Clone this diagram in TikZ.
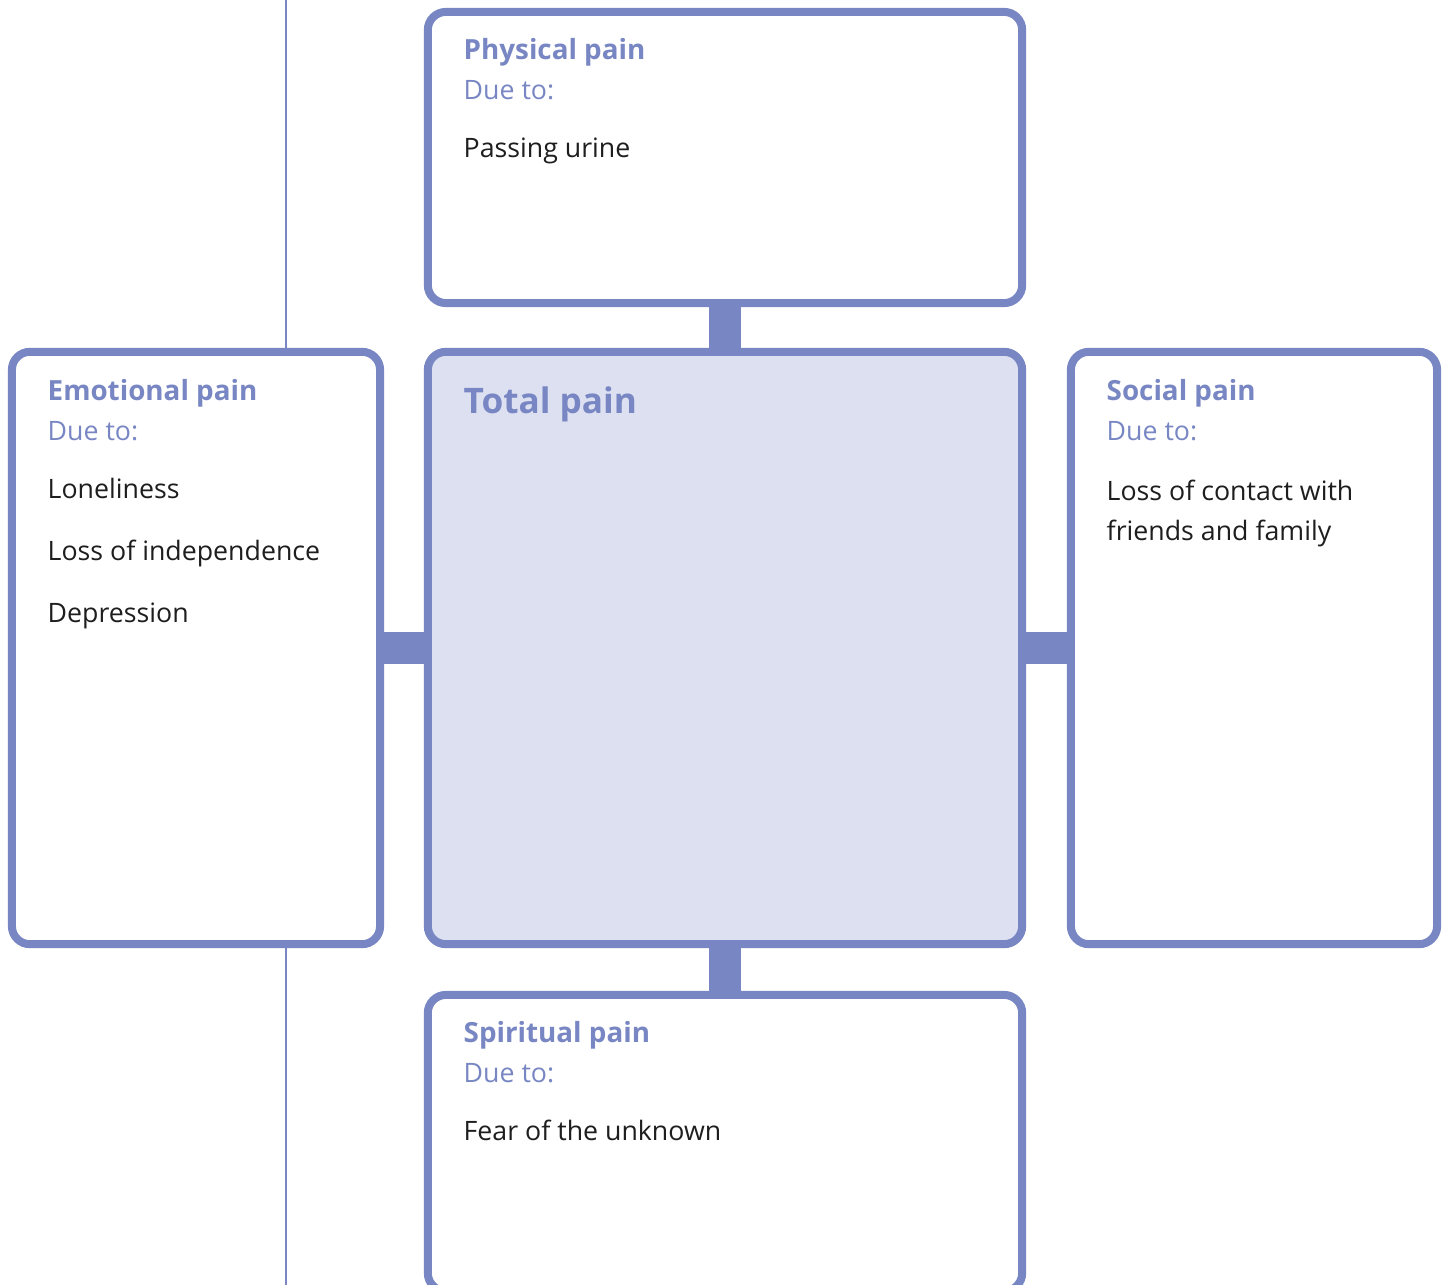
\documentclass[tikz,border=0pt]{standalone}
\usepackage{fontspec}
\setmainfont{Open Sans}
\definecolor{painblue}{RGB}{120,135,195}
\definecolor{painfill}{RGB}{221,224,240}
\definecolor{paintext}{RGB}{30,30,30}
\begin{document}
\begin{tikzpicture}[x=0.01cm,y=-0.01cm]
		\tikzset{painbox/.style = {draw=painblue, line width=0.08cm, rounded corners=0.18cm, fill=white, inner sep=0pt}}
		\tikzset{link/.style = {draw=painblue, line width=0.32cm}}
		\tikzset{heading/.style = {anchor=base west, inner sep=0pt, text=painblue, font=\fontsize{7.9}{11.4}\selectfont\bfseries}}
		\tikzset{dueto/.style = {anchor=base west, inner sep=0pt, text=painblue, font=\fontsize{7.6}{11.4}\selectfont}}
		\tikzset{item/.style = {anchor=base west, inner sep=0pt, text=paintext, align=left, font=\fontsize{7.6}{11.4}\selectfont}}
		\clip (0,0) rectangle (1451,1285);
		\draw[painblue, line width=0.015cm] (286,0) -- (286,1285);
		% boxes
		\node[painbox, minimum width=5.94cm, minimum height=2.91cm] (physical) at (725,157.5) {};
		\node[painbox, fill=painfill, minimum width=5.94cm, minimum height=5.92cm] (total) at (725,648) {};
		\node[painbox, minimum width=3.68cm, minimum height=5.92cm] (emotional) at (196,648) {};
		\node[painbox, minimum width=3.66cm, minimum height=5.92cm] (social) at (1254,648) {};
		\node[painbox, minimum width=5.94cm, minimum height=2.96cm] (spiritual) at (725,1143) {};
		% links
		\path[link] (physical.south) -- (total.north);
		\path[link] (total.south) -- (spiritual.north);
		\path[link] (emotional.east) -- (total.west);
		\path[link] (total.east) -- (social.west);
		% texts
		\node[heading] (physicalhead) at (463,60) {Physical pain};
		\node[dueto] (physicaldue) at (463,100) {Due to:};
		\node[item] (physicalitem) at (463,158) {Passing urine};
		\node[heading, font=\fontsize{10}{12}\selectfont\bfseries] (totalhead) at (463,413) {Total pain};
		\node[heading] (emotionalhead) at (47,400) {Emotional pain};
		\node[dueto] (emotionaldue) at (47,440) {Due to:};
		\node[item] (emotionalitema) at (47,498) {Loneliness};
		\node[item] (emotionalitemb) at (47,560) {Loss of independence};
		\node[item] (emotionalitemc) at (47,622) {Depression};
		\node[heading] (socialhead) at (1106,400) {Social pain};
		\node[dueto] (socialdue) at (1106,440) {Due to:};
		\node[item] (socialitema) at (1106,500) {Loss of contact with};
		\node[item] (socialitemb) at (1106,540) {friends and family};
		\node[heading] (spiritualhead) at (463,1042) {Spiritual pain};
		\node[dueto] (spiritualdue) at (463,1082) {Due to:};
		\node[item] (spiritualitem) at (463,1140) {Fear of the unknown};
	\end{tikzpicture}
\end{document}
